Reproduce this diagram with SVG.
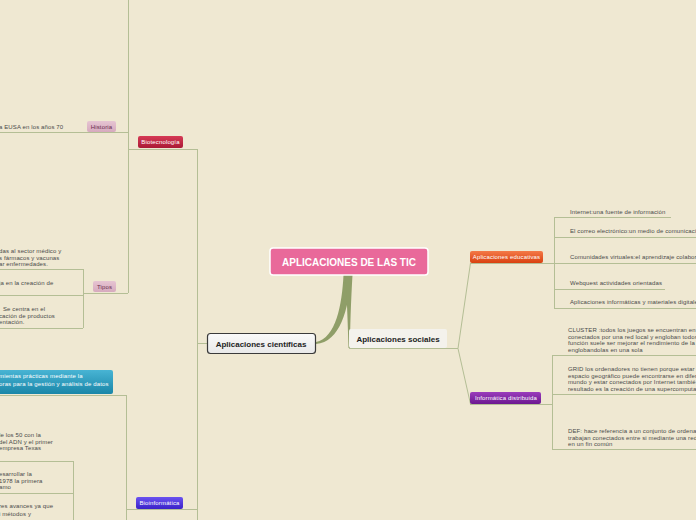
<svg xmlns="http://www.w3.org/2000/svg" width="696" height="520" viewBox="0 0 696 520">
<defs>
<linearGradient id="gEdu" x1="0" y1="0" x2="0" y2="1"><stop offset="0" stop-color="#f47a48"/><stop offset="1" stop-color="#d9400f"/></linearGradient>
<linearGradient id="gInf" x1="0" y1="0" x2="0" y2="1"><stop offset="0" stop-color="#9a3cbc"/><stop offset="1" stop-color="#6c1890"/></linearGradient>
<linearGradient id="gBio" x1="0" y1="0" x2="0" y2="1"><stop offset="0" stop-color="#d63a55"/><stop offset="1" stop-color="#aa1a35"/></linearGradient>
<linearGradient id="gBinf" x1="0" y1="0" x2="0" y2="1"><stop offset="0" stop-color="#6a52f0"/><stop offset="1" stop-color="#3a22c8"/></linearGradient>
<linearGradient id="gTeal" x1="0" y1="0" x2="0" y2="1"><stop offset="0" stop-color="#48b4d4"/><stop offset="1" stop-color="#1a86a8"/></linearGradient>
<linearGradient id="gCien" x1="0" y1="0" x2="0" y2="1"><stop offset="0" stop-color="#fafafa"/><stop offset="1" stop-color="#e8e8e8"/></linearGradient>
<linearGradient id="gSub" x1="0" y1="0" x2="0" y2="1"><stop offset="0" stop-color="#e6c4d2"/><stop offset="1" stop-color="#d6aabe"/></linearGradient>
</defs>
<style>
.ln{stroke:#b4be95;stroke-width:1;fill:none}
.th{fill:#8f9e68}
.t{font-family:"Liberation Sans",Arial,sans-serif;font-size:6px;letter-spacing:0.12px;fill:#4a4a4a}
.tw{font-family:"Liberation Sans",Arial,sans-serif;font-size:6px;letter-spacing:0.15px;fill:#ffffff}
.ts{font-family:"Liberation Sans",Arial,sans-serif;font-size:6px;letter-spacing:0.15px;fill:#6a2e4e}
.tb{font-family:"Liberation Sans",Arial,sans-serif;font-size:8px;font-weight:bold;fill:#222}
.tc{font-family:"Liberation Sans",Arial,sans-serif;font-size:10px;font-weight:bold;fill:#ffffff}
</style>
<rect width="696" height="520" fill="#efe8d2"/>

<g id="connectors">
<path class="th" d="M343.5 275 C342 305 336 338 316 342 L316 344 C340 342 348.5 310 351.5 275 Z"/>
<path class="th" d="M345.5 275 C347 300 348 330 348.5 348 L350 348 C350 330 351 300 352.5 275 Z"/>
<path class="ln" d="M349 348.5 H458 M458 348.5 L470.5 263 M458 348.5 L470.5 404"/>
<path class="ln" d="M470 263.5 H554 M554.5 217 V308"/>
<path class="ln" d="M554 217.5 H671 M554 237.5 H696 M554 263.5 H696 M554 289.5 H665 M554 308.5 H696"/>
<path class="ln" d="M470 404.5 H552 M552.5 355 V449"/>
<path class="ln" d="M552 355.5 H696 M552 394.5 H696 M552 449.5 H696"/>
<path class="ln" d="M197 343.5 H207 M197.5 149 V520"/>
<path class="ln" d="M128 149.5 H197 M128.5 0 V293"/>
<path class="ln" d="M0 132.5 H128"/>
<path class="ln" d="M83 293.5 H128 M83.5 269 V328"/>
<path class="ln" d="M0 269.5 H83 M0 295.5 H83 M0 328.5 H83"/>
<path class="ln" d="M126 509.5 H197 M126.5 395 V520"/>
<path class="ln" d="M0 395.5 H126"/>
<path class="ln" d="M73.5 461 V520 M0 461.5 H73 M0 493.5 H73"/>
</g>

<g id="central">
<rect x="270" y="248" width="158" height="27" rx="3" fill="#e9699a" stroke="#ffffff" stroke-width="1.5"/>
<text class="tc" x="349" y="266" text-anchor="middle">APLICACIONES DE LAS TIC</text>
</g>

<g id="cientificas">
<rect x="207.5" y="333.5" width="108" height="20" rx="3" fill="url(#gCien)" stroke="#3a3a3a" stroke-width="1.2"/>
<text class="tb" x="261" y="346.5" text-anchor="middle">Aplicaciones científicas</text>
</g>

<g id="sociales">
<rect x="349" y="329" width="98" height="19" rx="2" fill="#f4f2ec"/>
<text class="tb" x="398" y="342" text-anchor="middle">Aplicaciones sociales</text>
</g>

<g id="educativas">
<rect x="470" y="251" width="73" height="12" rx="2" fill="url(#gEdu)"/>
<text class="tw" x="506.5" y="259.2" text-anchor="middle">Aplicaciones educativas</text>
</g>
<g id="edu-internet"><text class="t" x="570" y="214">Internet:una fuente de información</text></g>
<g id="edu-correo"><text class="t" x="570" y="233">El correo electrónico:un  medio de comunicaci</text></g>
<g id="edu-comunidades"><text class="t" x="570" y="259">Comunidades virtuales:el aprendizaje colabor</text></g>
<g id="edu-webquest"><text class="t" x="570" y="285">Webquest actividades orientadas</text></g>
<g id="edu-aplicaciones"><text class="t" x="570" y="304">Aplicaciones informáticas y materiales digitale</text></g>

<g id="distribuida">
<rect x="470" y="392" width="71" height="12" rx="2" fill="url(#gInf)"/>
<text class="tw" x="506" y="400.2" text-anchor="middle">Informática distribuida</text>
</g>
<g id="dist-cluster">
<text class="t" x="568" y="332">CLUSTER :todos los juegos se encuentran en e</text>
<text class="t" x="568" y="338.5">conectados por una red local y engloban todos</text>
<text class="t" x="568" y="345">función suele ser mejorar el rendimiento de la</text>
<text class="t" x="568" y="351.5">englobandolas en una sola</text>
</g>
<g id="dist-grid">
<text class="t" x="568" y="371">GRID los ordenadores no tienen porque estar e</text>
<text class="t" x="568" y="377.5">espacio geográfico puede encontrarse en difer</text>
<text class="t" x="568" y="384">mundo y estar conectados por Internet tambié</text>
<text class="t" x="568" y="390.5">resultado es la creación de una supercomputa</text>
</g>
<g id="dist-def">
<text class="t" x="568" y="433">DEF: hace referencia a un conjunto de ordena</text>
<text class="t" x="568" y="439.5">trabajan conectados entre si mediante una red</text>
<text class="t" x="568" y="446">en un fin común</text>
</g>

<g id="biotecnologia">
<rect x="138" y="136" width="45" height="12" rx="2" fill="url(#gBio)"/>
<text class="tw" x="160.5" y="144.2" text-anchor="middle">Biotecnología</text>
</g>
<g id="historia">
<rect x="87" y="121" width="29" height="11" rx="2" fill="url(#gSub)"/>
<text class="ts" x="101.5" y="129" text-anchor="middle">Historia</text>
</g>
<g id="historia-1"><text class="t" x="-1" y="129">a EUSA en los años 70</text></g>
<g id="tipos">
<rect x="93" y="281" width="23" height="11" rx="2" fill="url(#gSub)"/>
<text class="ts" x="104.5" y="289" text-anchor="middle">Tipos</text>
</g>
<g id="tipos-1">
<text class="t" x="-1" y="253">das al sector médico y</text>
<text class="t" x="-1" y="259.5">s fármacos y vacunas</text>
<text class="t" x="-1" y="266">ar enfermedades.</text>
</g>
<g id="tipos-2"><text class="t" x="-1" y="285">ja en la creación de</text></g>
<g id="tipos-3">
<text class="t" x="3" y="311">Se centra en el</text>
<text class="t" x="-1" y="317.5">cación de productos</text>
<text class="t" x="-1" y="324">entación.</text>
</g>

<g id="bioinformatica">
<rect x="136" y="497" width="47" height="12" rx="2" fill="url(#gBinf)"/>
<text class="tw" x="159.5" y="505.2" text-anchor="middle">Bioinformática</text>
</g>
<g id="bioinf-def">
<rect x="-5" y="370" width="118" height="24" rx="2" fill="url(#gTeal)"/>
<text class="tw" x="-1" y="378">mientas prácticas mediante la</text>
<text class="tw" x="-1" y="386">oras para la gestión y análisis de datos</text>
</g>
<g id="bioinf-1">
<text class="t" x="-1" y="437">le los 50 con la</text>
<text class="t" x="-1" y="443.5">del ADN y el primer</text>
<text class="t" x="-1" y="450">empresa Texas</text>
</g>
<g id="bioinf-2">
<text class="t" x="-1" y="476">esarrollar la</text>
<text class="t" x="-1" y="482.5">1978 la primera</text>
<text class="t" x="-1" y="489">amo</text>
</g>
<g id="bioinf-3">
<text class="t" x="-1" y="508">res avances ya que</text>
<text class="t" x="-1" y="515.5">i métodos y</text>
</g>
</svg>
